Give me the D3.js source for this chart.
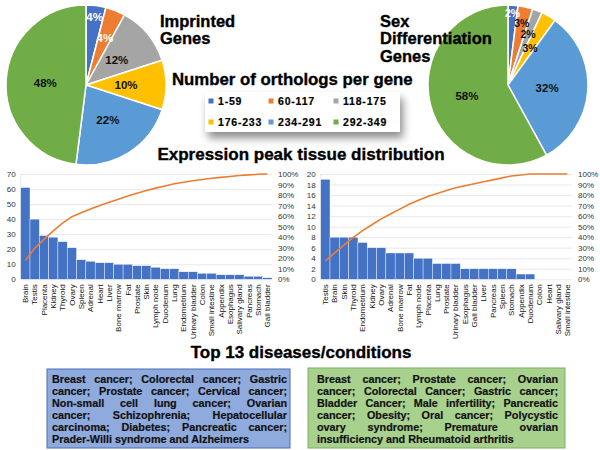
<!DOCTYPE html>
<html><head><meta charset="utf-8">
<script src="https://cdn.jsdelivr.net/npm/d3@7"></script>
<style>body{margin:0;background:#fff} svg{display:block} text{font-family:"Liberation Sans",Arial,sans-serif}</style>
</head><body><svg id="c" width="600" height="450"></svg>
<script>
// ---------- data ----------
const pieCategories = ["1-59","60-117","118-175","176-233","234-291","292-349"];
const imprintedPct = [4,4,12,10,22,48];
const sexDiffPct = [2,3,2,3,32,58];

const imprintedTissues = ["Brain","Testis","Placenta","Kidney","Thyroid","Ovary","Spleen","Adrenal","Heart","Liver","Bone marrow","Fat","Prostate","Skin","Lymph node","Duodenum","Lung","Endometrium","Urinary bladder","Colon","Small intestine","Appendix","Esophagus","Salivary gland","Pancreas","Stomach","Gall bladder"];
const imprintedCounts = [61,40,29,28,25,21,13,12,11,11,10,10,9,9,8,7,7,5,5,4,4,3,3,3,2,2,1];
const imprintedTicks = [0,10,20,30,40,50,60,70];

const sexTissues = ["Testis","Brain","Skin","Thyroid","Endometrium","Kidney","Ovary","Adrenal","Bone marrow","Fat","Lymph node","Placenta","Lung","Prostate","Urinary bladder","Esophagus","Gall bladder","Liver","Pancreas","Spleen","Stomach","Appendix","Duodenum","Colon","Heart","Salivary gland","Small intestine"];
const sexCounts = [19,8,8,8,7,6,6,5,5,5,4,4,3,3,3,2,2,2,2,2,2,1,1,0,0,0,0];
const sexTicks = [0,2,4,6,8,10,12,14,16,18,20];

const percentTicks = [0,0.1,0.2,0.3,0.4,0.5,0.6,0.7,0.8,0.9,1];

const imprintedDiseases = [
  "Breast cancer; Colorectal cancer; Gastric",
  "cancer; Prostate cancer; Cervical cancer;",
  "Non-small cell lung cancer; Ovarian",
  "cancer; Schizophrenia; Hepatocellular",
  "carcinoma; Diabetes; Pancreatic cancer;",
  "Prader-Willi syndrome and Alzheimers"];
const sexDiseases = [
  "Breast cancer; Prostate cancer; Ovarian",
  "cancer; Colorectal Cancer; Gastric cancer;",
  "Bladder Cancer; Male infertility; Pancreatic",
  "cancer; Obesity; Oral cancer; Polycystic",
  "ovary syndrome; Premature ovarian",
  "insufficiency and Rheumatoid arthritis"];

// ---------- styles ----------
const pieColors = ["#4472C4","#ED7D31","#A5A5A5","#FFC000","#5B9BD5","#70AD47"];
const svg = d3.select("#c");

const defs = svg.append("defs");
const f = defs.append("filter").attr("id","sh").attr("x","-20%").attr("y","-30%").attr("width","150%").attr("height","190%");
f.append("feDropShadow").attr("dx",3).attr("dy",6).attr("stdDeviation",4).attr("flood-color","#000").attr("flood-opacity",0.45);

// ---------- pies ----------
function drawPie(cx, cy, R, vals, labelR, labelColors, labelSizes){
  const g = svg.append("g").attr("transform",`translate(${cx},${cy})`);
  const arcs = d3.pie().sort(null).value(d=>d)(vals);
  const arc = d3.arc().innerRadius(0).outerRadius(R);
  g.selectAll("path").data(arcs).join("path").attr("d",arc)
    .attr("fill",(d,i)=>pieColors[i]).attr("stroke","#fff").attr("stroke-width",1.5);
  g.selectAll("text").data(arcs).join("text")
    .attr("transform",(d,i)=>{const a=d3.arc().innerRadius(R*labelR[i]).outerRadius(R*labelR[i]);return `translate(${a.centroid(d)})`;})
    .attr("text-anchor","middle").attr("dy","0.36em")
    .attr("font-size",(d,i)=>labelSizes[i]).attr("font-weight","bold")
    .attr("fill",(d,i)=>labelColors[i])
    .text(d=>d.data+"%");
}
drawPie(86,85,80,imprintedPct,[0.86,0.64,0.5,0.5,0.51,0.51],["#fff","#fff","#111","#111","#111","#111"],[11.5,11.5,11.5,11.5,11.5,11.5]);
drawPie(508,85,80,sexDiffPct,[0.9,0.79,0.68,0.54,0.49,0.53],["#fff","#111","#111","#111","#111","#111"],[10.5,10.5,10.5,10.5,11.5,11.5]);

function titleLines(x, ys, lines, size){
  const t = svg.append("text").attr("font-size",size).attr("font-weight","bold").attr("fill","#000")
    .attr("stroke","#000").attr("stroke-width",0.35);
  lines.forEach((l,i)=>t.append("tspan").attr("x",x).attr("y",ys[i]).text(l));
}
titleLines(160,[27,44],["Imprinted","Genes"],16.5);
titleLines(380,[27,44,62],["Sex","Differentiation","Genes"],16.5);

svg.append("text").attr("x",172).attr("y",85).attr("font-size",16.8).attr("font-weight","bold")
  .attr("stroke","#000").attr("stroke-width",0.35).text("Number of orthologs per gene");

// legend
const lg = svg.append("g");
lg.append("rect").attr("x",205).attr("y",92).attr("width",195).attr("height",40).attr("fill","#fff").attr("filter","url(#sh)");
const legX = [211,271,336], legY = [101,122];
pieCategories.forEach((c,i)=>{
  const x = legX[i%3], y = legY[Math.floor(i/3)];
  lg.append("rect").attr("x",x-2.5).attr("y",y-2.5).attr("width",5).attr("height",5).attr("fill",pieColors[i]);
  lg.append("text").attr("x",x+7).attr("y",y).attr("dy","0.36em").attr("font-size",10.5).attr("font-weight","bold")
    .attr("stroke","#000").attr("stroke-width",0.2).attr("letter-spacing",0.8).text(c);
});

// ---------- pareto ----------
svg.append("text").attr("x",301).attr("y",160).attr("text-anchor","middle").attr("font-size",17).attr("font-weight","bold")
  .attr("stroke","#000").attr("stroke-width",0.35).text("Expression peak tissue distribution");

function pareto(x0,x1,yTop,yBot,cats,vals,ticks){
  const g = svg.append("g");
  const max = ticks[ticks.length-1];
  const x = d3.scaleBand().domain(cats).range([x0,x1]).padding(0);
  const y = d3.scaleLinear().domain([0,max]).range([yBot,yTop]);
  const yp = d3.scaleLinear().domain([0,1]).range([yBot,yTop]);
  // grid
  g.append("g").attr("transform",`translate(${x0},0)`)
    .call(d3.axisLeft(y).tickValues(ticks).tickSize(-(x1-x0)).tickFormat(""))
    .call(a=>a.select(".domain").remove())
    .call(a=>a.selectAll("line").attr("stroke","#e3e3e3").attr("stroke-width",0.8));
  g.append("line").attr("x1",x0).attr("x2",x0).attr("y1",yTop).attr("y2",yBot).attr("stroke","#e3e3e3").attr("stroke-width",0.8);
  // left labels
  g.append("g").attr("transform",`translate(${x0},0)`)
    .call(d3.axisLeft(y).tickValues(ticks).tickSize(0).tickPadding(5))
    .call(a=>a.select(".domain").remove())
    .call(a=>a.selectAll("text").attr("font-size",8).attr("fill","#333").attr("font-family","Liberation Sans, Arial, sans-serif"));
  // right labels
  g.append("g").attr("transform",`translate(${x1},0)`)
    .call(d3.axisRight(yp).tickValues(percentTicks).tickFormat(d3.format(".0%")).tickSize(0).tickPadding(6))
    .call(a=>a.select(".domain").remove())
    .call(a=>a.selectAll("text").attr("font-size",8).attr("fill","#333").attr("font-family","Liberation Sans, Arial, sans-serif"));
  // bars
  g.selectAll("rect.bar").data(vals).join("rect").attr("class","bar")
    .attr("x",(d,i)=>x(cats[i])).attr("width",x.bandwidth())
    .attr("y",d=>y(d)).attr("height",d=>yBot-y(d))
    .attr("fill","#4472C4").attr("stroke","#fff").attr("stroke-width",0.4);
  // cumulative line
  const total = d3.sum(vals);
  const cum = Array.from(d3.cumsum(vals)).map(v=>v/total);
  g.append("path").datum(cum)
    .attr("d",d3.line().x((d,i)=>x(cats[i])+x.bandwidth()/2).y(d=>yp(d)))
    .attr("fill","none").attr("stroke","#ED7D31").attr("stroke-width",1.6);
  // x labels
  g.append("g").attr("transform",`translate(0,${yBot})`)
    .call(d3.axisBottom(x).tickSize(0))
    .call(a=>a.select(".domain").remove())
    .call(a=>a.selectAll("text").attr("transform","rotate(-90)").attr("text-anchor","end")
      .attr("x",-5).attr("y",0).attr("dy","0.35em")
      .attr("font-size",8).attr("fill","#111").attr("font-family","Liberation Sans, Arial, sans-serif"));
}
pareto(20.7,272,174,279.3,imprintedTissues,imprintedCounts,imprintedTicks);
pareto(320.7,572,174,279.3,sexTissues,sexCounts,sexTicks);

// ---------- diseases ----------
svg.append("text").attr("x",301).attr("y",358).attr("text-anchor","middle").attr("font-size",17).attr("font-weight","bold")
  .attr("stroke","#000").attr("stroke-width",0.35).text("Top 13 diseases/conditions");

function diseaseBox(bx,by,bw,bh,fill,stroke,lines,tx0,tx1){
  const g = svg.append("g");
  g.append("rect").attr("x",bx).attr("y",by).attr("width",bw).attr("height",bh)
    .attr("fill",fill).attr("stroke",stroke).attr("stroke-width",1);
  lines.forEach((ln,i)=>{
    const t = g.append("text").attr("x",tx0).attr("y",383+i*12)
      .attr("font-size",10.8).attr("font-weight","bold").attr("fill","#111")
      .attr("stroke","#111").attr("stroke-width",0.2).text(ln);
    if(i<lines.length-1){
      const w = t.node().getComputedTextLength();
      const n = (ln.match(/ /g)||[]).length;
      if(n>0) t.attr("word-spacing",((tx1-tx0-w)/n).toFixed(2));
    }
  });
}
diseaseBox(47,369,243,79,"#8FAADC","#4a6fb5",imprintedDiseases,52,287);
diseaseBox(308,368,257,80,"#A9D18E","#7fae5e",sexDiseases,317,558);
</script></body></html>
